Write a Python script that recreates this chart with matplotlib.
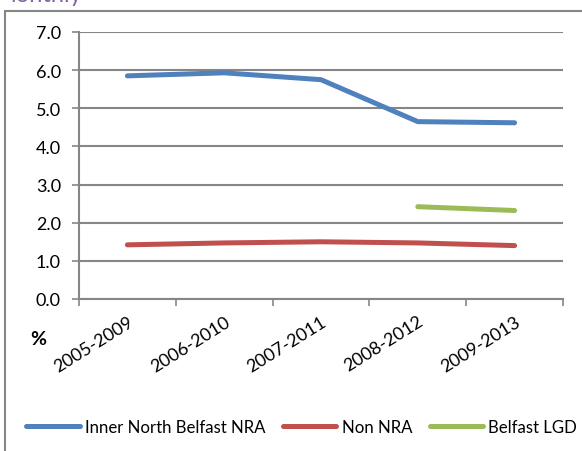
import numpy as np
import matplotlib.pyplot as plt
from matplotlib.patches import Rectangle

periods = ["2005-2009", "2006-2010", "2007-2011", "2008-2012", "2009-2013"]
inner_north = [5.85, 5.93, 5.75, 4.65, 4.62]
non_nra = [1.42, 1.47, 1.50, 1.47, 1.40]
belfast_lgd = [np.nan, np.nan, np.nan, 2.42, 2.32]

yticks = np.arange(0, 7.01, 1.0)

plt.rcParams['font.family'] = ['Lato', 'DejaVu Sans']
grey = '#868686'

fig = plt.figure(figsize=(5.82, 4.52), dpi=100)
ax = fig.add_axes([79/582, 1 - 300/452, (563-79)/582, (300-33)/452])

x = np.arange(len(periods))
ax.plot(x, inner_north, color='#4F81BD', lw=3.6, solid_capstyle='round',
        solid_joinstyle='round', label='Inner North Belfast NRA')
ax.plot(x, non_nra, color='#C0504D', lw=3.6, solid_capstyle='round',
        solid_joinstyle='round', label='Non NRA')
ax.plot(x, belfast_lgd, color='#9BBB59', lw=3.6, solid_capstyle='round',
        solid_joinstyle='round', label='Belfast LGD')

ax.set_xlim(-0.5, len(periods) - 0.5)
ax.set_ylim(0, 7)
ax.set_yticks(yticks)
ax.set_yticklabels([f"{v:.1f}" for v in yticks], fontsize=13)
ax.yaxis.grid(True, color=grey, lw=1.5)
ax.set_axisbelow(True)

ax.set_xticks(np.arange(-0.5, len(periods)), labels=[])
ax.set_xticks(x, minor=True)
ax.set_xticklabels(periods, minor=True, rotation=32, ha='right',
                   rotation_mode='anchor', fontsize=13)
ax.tick_params(axis='x', which='minor', length=0, pad=10)
ax.tick_params(axis='x', which='major', length=5, width=1.2, color=grey)
ax.tick_params(axis='y', length=5, width=1.2, color=grey, pad=8)

for s in ['top', 'right']:
    ax.spines[s].set_visible(False)
for s in ['left', 'bottom']:
    ax.spines[s].set_color(grey)
    ax.spines[s].set_linewidth(1.5)

fig.text(38/582, 1 - 340/452, '%', fontsize=14, fontweight='bold',
         ha='center', va='center')

# outer chart frame, running off the right and bottom edges
fig.patches.append(Rectangle((5/582, -0.1), 1.2, 1.1 - 12/452, fill=False,
                             edgecolor=grey, lw=1.5, transform=fig.transFigure))

# clipped title fragment above the frame
fig.text(-5/582, 1 - 1.5/452, 'Monthly', color='#8064A2', fontsize=17,
         va='baseline', ha='left')

fig.legend(loc='center', bbox_to_anchor=(0.518, 1 - 428/452), ncol=3,
           frameon=False, fontsize=12.1, handlelength=3.2, handletextpad=0.3,
           columnspacing=1.05)

fig.savefig('out.png', dpi=100)
